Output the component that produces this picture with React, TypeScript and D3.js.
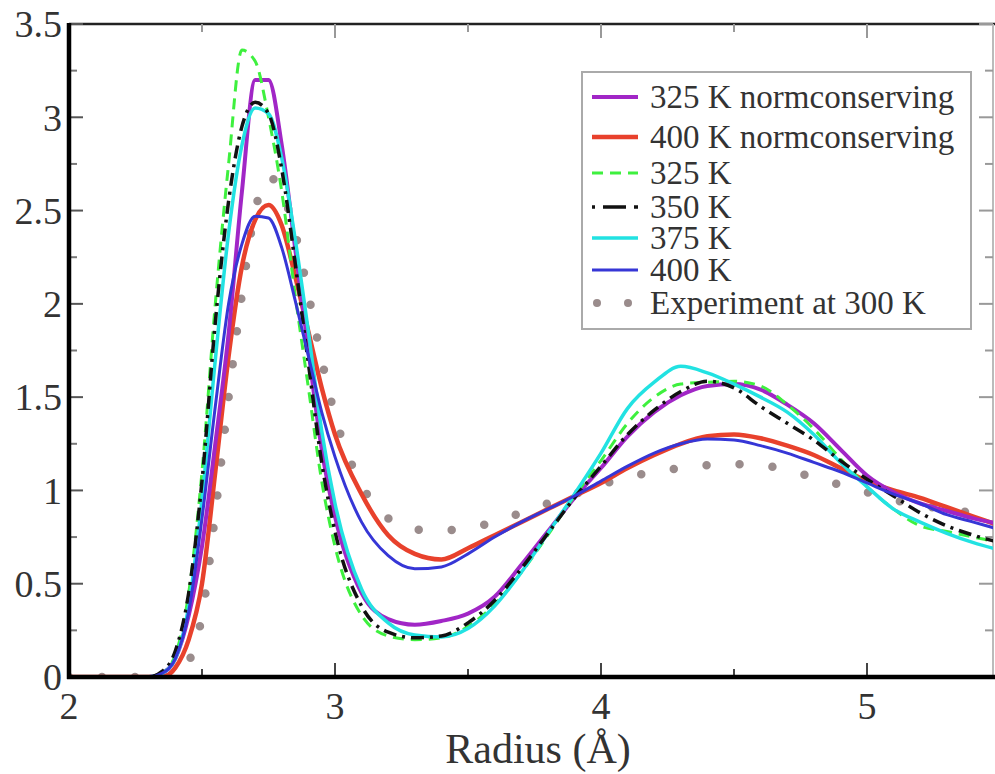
import React from 'react';
import * as d3 from 'd3';

// Shared radius grid (Å)
const radius = [2.0, 2.3, 2.35, 2.4, 2.45, 2.5, 2.55, 2.6, 2.65, 2.7, 2.75, 2.8, 2.85, 2.9, 2.95, 3.0, 3.1, 3.2, 3.3, 3.4, 3.5, 3.6, 3.7, 3.8, 3.9, 4.0, 4.1, 4.2, 4.3, 4.4, 4.5, 4.6, 4.7, 4.8, 4.9, 5.0, 5.1, 5.2, 5.3, 5.4, 5.5];

const nc325 = [0, 0, 0.02, 0.1, 0.33, 0.7, 1.25, 1.84, 2.6, 3.2, 3.2, 2.85, 2.3, 1.75, 1.22, 0.86, 0.45, 0.31, 0.28, 0.3, 0.34, 0.43, 0.6, 0.78, 0.96, 1.12, 1.29, 1.42, 1.51, 1.56, 1.57, 1.54, 1.46, 1.36, 1.22, 1.08, 0.99, 0.93, 0.89, 0.85, 0.82];
const nc400 = [0, 0, 0, 0.05, 0.2, 0.5, 1.1, 1.72, 2.2, 2.45, 2.53, 2.42, 2.15, 1.85, 1.55, 1.3, 0.98, 0.76, 0.66, 0.63, 0.69, 0.76, 0.83, 0.9, 0.97, 1.04, 1.12, 1.19, 1.25, 1.29, 1.3, 1.28, 1.24, 1.19, 1.12, 1.05, 1.0, 0.96, 0.91, 0.86, 0.81];
const t325 = [0, 0, 0.02, 0.12, 0.45, 1.1, 2.0, 2.75, 3.36, 3.3, 3.0, 2.6, 2.05, 1.55, 1.05, 0.7, 0.33, 0.22, 0.2, 0.21, 0.27, 0.39, 0.56, 0.76, 0.97, 1.16, 1.36, 1.5, 1.57, 1.58, 1.585, 1.56, 1.46, 1.33, 1.17, 1.02, 0.9, 0.81, 0.78, 0.75, 0.72];
const t350 = [0, 0, 0.03, 0.14, 0.45, 1.05, 1.9, 2.55, 2.95, 3.08, 3.02, 2.72, 2.22, 1.68, 1.15, 0.78, 0.38, 0.24, 0.21, 0.22, 0.29, 0.41, 0.58, 0.77, 0.96, 1.13, 1.3, 1.43, 1.53, 1.585, 1.55, 1.45, 1.36, 1.27, 1.16, 1.06, 0.97, 0.88, 0.81, 0.76, 0.72];
const t375 = [0, 0, 0.02, 0.1, 0.38, 0.95, 1.7, 2.38, 2.85, 3.05, 3.02, 2.78, 2.35, 1.85, 1.32, 0.93, 0.47, 0.29, 0.225, 0.215, 0.26, 0.38, 0.56, 0.77, 0.98, 1.2, 1.44, 1.58, 1.665, 1.63, 1.57, 1.5, 1.42, 1.3, 1.15, 1.02, 0.9, 0.83, 0.77, 0.72, 0.68];
const t400 = [0, 0, 0.02, 0.1, 0.35, 0.85, 1.45, 2.0, 2.32, 2.47, 2.46, 2.3, 2.02, 1.72, 1.42, 1.18, 0.83, 0.65, 0.58, 0.59, 0.66, 0.75, 0.83, 0.9, 0.97, 1.05, 1.13, 1.2, 1.25, 1.275, 1.27, 1.24, 1.2, 1.15, 1.1, 1.04, 0.98, 0.93, 0.87, 0.83, 0.79];
const exp300 = [0, 0, 0, 0, 0.08, 0.33, 0.88, 1.5, 2.05, 2.5, 2.68, 2.6, 2.38, 2.05, 1.7, 1.4, 1.03, 0.85, 0.79, 0.785, 0.8, 0.83, 0.88, 0.93, 0.98, 1.03, 1.07, 1.1, 1.12, 1.135, 1.14, 1.135, 1.11, 1.07, 1.03, 0.99, 0.95, 0.92, 0.9, 0.88, 0.87];

const seriesNames = ['325 K normconserving', '400 K normconserving', '325 K', '350 K', '375 K', '400 K', 'Experiment at 300 K'];
const seriesValues = [nc325, nc400, t325, t350, t375, t400, exp300];

const xMajor = [2, 3, 4, 5];
const xMinor = [2.5, 3.5, 4.5, 5.5];
const yMajor = [0, 0.5, 1, 1.5, 2, 2.5, 3, 3.5];
const yMinor = [0.25, 0.75, 1.25, 1.75, 2.25, 2.75, 3.25];

const styles = [
  { color: '#a126c6', width: 4, dash: undefined, cap: 'butt' },
  { color: '#e8412c', width: 4.5, dash: undefined, cap: 'butt' },
  { color: '#3ef03e', width: 3, dash: '11 7', cap: 'butt' },
  { color: '#111111', width: 3.5, dash: '13 6 3 6', cap: 'butt' },
  { color: '#22e2e2', width: 3.5, dash: undefined, cap: 'butt' },
  { color: '#3636d6', width: 3, dash: undefined, cap: 'butt' },
  { color: '#9a8c8c', width: 8.5, dash: '0 33', cap: 'round' },
];

const FONT = "'Liberation Serif', 'Times New Roman', Times, serif";

export default function App() {
  const left = 69, top = 24, bottom = 677, right = 993;
  const x = d3.scaleLinear().domain([2, 5.5]).range([left, left + 3.5 * 266]);
  const y = d3.scaleLinear().domain([0, 3.5]).range([bottom, top]);
  const line = d3.line<number>()
    .x((_, i) => x(radius[i]))
    .y((d) => y(d))
    .curve(d3.curveMonotoneX);

  const order = [6, 1, 0, 2, 4, 3, 5];
  const legendRows = [97, 137, 173, 207, 238, 270, 303];
  const tf = { fontFamily: FONT };

  return (
    <svg width={995} height={774} style={{ position: 'absolute', left: 0, top: 0, background: '#fff', fontFamily: FONT }}>
      <defs>
        <clipPath id="plotclip">
          <rect x={left} y={top} width={right - left} height={bottom - top + 2} />
        </clipPath>
      </defs>
      <rect x={0} y={0} width={995} height={774} fill="#fff" />
      {/* frame top/right */}
      <line x1={left} x2={995} y1={top} y2={top} stroke="#222" strokeWidth={2.5} />
      <line x1={right} x2={right} y1={top} y2={bottom} stroke="#bbb" strokeWidth={2} />
      {/* ticks */}
      {xMajor.map((v) => (
        <g key={'xM' + v}>
          <line x1={x(v)} x2={x(v)} y1={bottom} y2={bottom - 14} stroke="#444" strokeWidth={2} />
          <line x1={x(v)} x2={x(v)} y1={top} y2={top + 14} stroke="#999" strokeWidth={2} />
        </g>
      ))}
      {xMinor.map((v) => (
        <g key={'xm' + v}>
          <line x1={x(v)} x2={x(v)} y1={bottom} y2={bottom - 8} stroke="#444" strokeWidth={2} />
          <line x1={x(v)} x2={x(v)} y1={top} y2={top + 8} stroke="#999" strokeWidth={2} />
        </g>
      ))}
      {yMajor.map((v) => (
        <g key={'yM' + v}>
          <line x1={left} x2={left + 14} y1={y(v)} y2={y(v)} stroke="#555" strokeWidth={2} />
          <line x1={right} x2={right - 14} y1={y(v)} y2={y(v)} stroke="#999" strokeWidth={2} />
        </g>
      ))}
      {yMinor.map((v) => (
        <g key={'ym' + v}>
          <line x1={left} x2={left + 8} y1={y(v)} y2={y(v)} stroke="#777" strokeWidth={2} />
          <line x1={right} x2={right - 8} y1={y(v)} y2={y(v)} stroke="#999" strokeWidth={2} />
        </g>
      ))}
      {/* curves */}
      <g clipPath="url(#plotclip)">
        {order.map((k) => (
          <path key={k} d={line(seriesValues[k]) || ''} fill="none"
            stroke={styles[k].color} strokeWidth={styles[k].width}
            strokeDasharray={styles[k].dash} strokeLinecap={styles[k].cap as any}
            strokeLinejoin="round" />
        ))}
      </g>
      {/* axes left/bottom */}
      <line x1={left} x2={left} y1={top - 1} y2={bottom + 2} stroke="#000" strokeWidth={4.5} />
      <line x1={left - 2} x2={995} y1={bottom} y2={bottom} stroke="#000" strokeWidth={4.5} />
      {/* tick labels */}
      {yMajor.map((v) => (
        <text key={'yl' + v} x={62} y={y(v)} dy="0.35em" textAnchor="end" fontSize={38} fill="#333" style={tf}>
          {d3.format('')(v)}
        </text>
      ))}
      {xMajor.map((v) => (
        <text key={'xl' + v} x={x(v)} y={bottom + 42} textAnchor="middle" fontSize={38} fill="#333" style={tf}>
          {v}
        </text>
      ))}
      <text x={538} y={763} textAnchor="middle" fontSize={42} fill="#333" style={tf}>Radius (Å)</text>
      {/* legend */}
      <rect x={582} y={72} width={389} height={257} fill="#fff" stroke="#aaa" strokeWidth={2} />
      {seriesNames.map((name, i) => {
        const cy = legendRows[i];
        const s = styles[i];
        return (
          <g key={name}>
            {i === 6 ? (
              <g>
                <circle cx={597} cy={cy} r={4} fill={s.color} />
                <circle cx={628} cy={cy} r={4} fill={s.color} />
              </g>
            ) : (
              <line x1={592} x2={638} y1={cy} y2={cy} stroke={s.color} strokeWidth={s.width}
                strokeDasharray={i === 3 ? '3 8 20 0' : s.dash} />
            )}
            <text x={650} y={cy} dy="0.33em" fontSize={33} fill="#333" style={tf}>{name}</text>
          </g>
        );
      })}
    </svg>
  );
}
